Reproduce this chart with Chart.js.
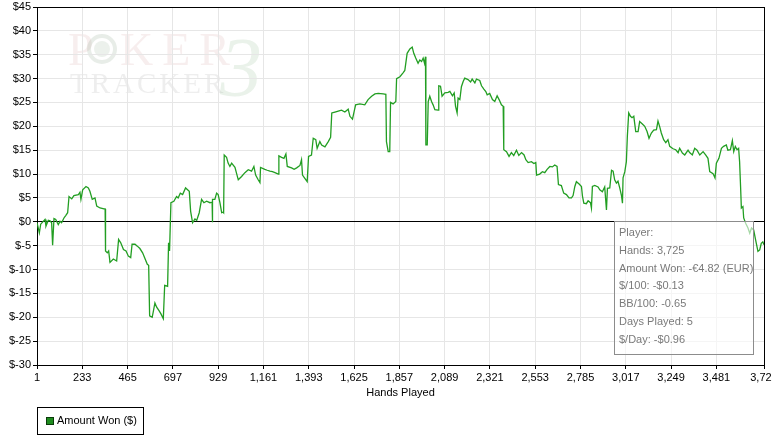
<!DOCTYPE html>
<html>
<head>
<meta charset="utf-8">
<script src="https://cdn.jsdelivr.net/npm/chart.js@4"></script>
<style>
  html, body { margin: 0; padding: 0; background: #fff; }
  #wrap { width: 772px; height: 442px; position: relative; }
</style>
</head>
<body>
<div id="wrap"><canvas id="chart" width="772" height="442"></canvas></div>
<script>
// hand number for each point
const hands = [
  1, 4, 13, 20, 33, 42, 47, 59, 68, 76, 81, 88, 97, 110, 119, 127, 139, 148, 158,
  165, 179, 190, 213, 221, 226, 235, 252, 264, 272, 284, 298, 307, 324, 344, 350,
  352, 361, 368, 375, 392, 409, 419, 430, 444, 457, 469, 481, 488, 503, 515, 528,
  542, 566, 573, 578, 591, 596, 605, 614, 626, 636, 648, 655, 670, 675, 680, 687,
  702, 716, 724, 735, 747, 762, 781, 788, 798, 810, 819, 832, 844, 856, 870, 887,
  898, 899, 901, 912, 921, 929, 938, 947, 955, 957,
  960, 972, 980, 989, 998, 1015, 1032, 1049, 1066, 1083, 1100, 1112, 1121, 1134,
  1143, 1146, 1168, 1180, 1194, 1207, 1220, 1237, 1240, 1254, 1266, 1276, 1283, 1305, 1318, 1331,
  1348, 1356, 1361, 1373, 1385, 1392, 1407, 1416, 1429, 1436, 1450, 1459, 1476,
  1493, 1505, 1511, 1527, 1544, 1561, 1578, 1595, 1604, 1617, 1624, 1633, 1655,
  1680, 1697, 1715, 1732, 1749, 1774, 1788, 1791, 1800, 1808, 1812, 1825, 1839, 1843,
  1860, 1876, 1885, 1890, 1897, 1911, 1923, 1931, 1941, 1953, 1962, 1971, 1979,
  1986, 1991, 1993, 2000, 2005, 2013, 2022, 2030, 2039, 2056, 2059, 2068, 2076,
  2090, 2107, 2116, 2129, 2138, 2145, 2153, 2158, 2167, 2175, 2184, 2192, 2209,
  2222, 2230, 2244, 2252, 2269, 2278, 2290, 2300, 2307, 2320, 2334, 2346, 2358,
  2368, 2380, 2389, 2392, 2406, 2419, 2431, 2443, 2457, 2469, 2483, 2496, 2505,
  2517, 2534, 2546, 2556, 2560, 2576, 2590, 2602, 2614, 2628, 2641, 2653, 2665,
  2672, 2687, 2699, 2713, 2726, 2739, 2747, 2756, 2764, 2778, 2790, 2795, 2802,
  2815, 2824, 2836, 2841, 2846, 2858, 2875, 2884,
  2897, 2909, 2918, 2923, 2935, 2944, 2952, 2960, 2969, 2977, 2986, 2995, 3000,
  3003, 3012, 3020, 3025, 3032, 3041, 3049, 3058, 3068, 3080, 3088, 3102, 3114,
  3126, 3136, 3148, 3160, 3174, 3182, 3191, 3199, 3211, 3222, 3233, 3242, 3259,
  3273, 3285, 3293, 3307, 3319, 3336, 3344, 3358, 3370, 3382, 3396, 3413, 3426,
  3438, 3447, 3464, 3474, 3481, 3494, 3507, 3518, 3532, 3540, 3553, 3563, 3570,
  3578, 3587, 3595, 3600, 3605, 3609, 3617, 3621, 3631, 3643, 3652, 3661, 3672,
  3682, 3694, 3703, 3711, 3719, 3725
];

// cumulative amount won ($) at those hands
const amountWon = [
  -0.2, -0.2, -2.3, -0.5, 0.1, 0.5, -0.9, 0.3, 0.2, -0.2, -4.9, 0.7, 0.5, -0.6, 0.1, -0.2, 0.8, 1.3, 1.9,
  5.3, 4.8, 5.5, 5.7, 6.2, 4.7, 6.7, 7.4, 7.1, 6.4, 4.7, 5.0, 3.3, 2.9, 2.7, 2.7,
  -6.1, -6.5, -6.1, -8.5, -7.8, -8.2, -3.7, -4.4, -5.8, -6.1, -7.2, -7.5, -4.7, -4.7, -5.1, -5.6,
  -6.5, -8.9, -9.1, -19.7, -20.0, -19.0, -17.0, -17.9, -18.6, -19.3, -20.3, -13.3, -13.5, -4.4, -6.1, 4.0,
  4.3, 5.3, 5.0, 6.0, 5.7, 7.1, 6.4, 2.2, -0.2, 0.6, 0.3, 1.9, 4.7, 4.0, 4.3, 4.0,
  4.1, -0.1, 4.7, 4.7, 6.0, 5.7, 4.0, 1.9, 2.0, 1.9,
  14.0, 13.5, 12.3, 11.6, 12.3, 11.4, 8.8, 9.5, 10.3, 10.9, 10.6, 11.6, 9.8, 8.8,
  8.2, 11.4, 11.0, 10.8, 10.6, 10.5, 10.3, 10.0, 13.8, 13.5, 13.3, 14.2, 11.6, 11.3, 11.0, 11.3,
  11.8, 13.0, 9.8, 9.1, 8.4, 13.7, 14.0, 17.5, 17.2, 15.4, 16.8, 16.1, 15.7,
  16.8, 17.7, 22.8, 23.0, 23.2, 23.4, 23.0, 23.6, 22.1, 21.5, 22.8, 24.5, 24.7,
  24.5, 25.6, 26.3, 26.8, 26.9, 26.8, 26.7, 16.8, 14.7, 14.7, 25.0, 24.7, 25.2, 30.0,
  30.4, 31.2, 31.7, 33.2, 35.3, 36.2, 36.6, 35.3, 34.3, 33.2, 33.9, 33.6, 34.3,
  33.2, 34.6, 16.1, 16.1, 25.2, 26.3, 25.2, 24.5, 23.5, 23.4, 28.5, 28.4, 26.3,
  27.0, 27.1, 27.3, 26.4, 27.0, 24.2, 22.8, 25.9, 25.6, 28.3, 29.4, 30.1, 29.8,
  29.3, 29.9, 29.1, 29.9, 29.6, 28.5, 27.8, 27.3, 26.6, 26.9, 25.6, 25.2, 26.4,
  25.6, 24.5, 24.2, 15.1, 14.7, 13.7, 14.5, 13.9, 15.0, 13.9, 14.5, 14.0, 13.0,
  12.4, 12.6, 12.2, 12.4, 9.8, 10.0, 10.5, 10.3, 11.0, 11.6, 11.5, 11.9, 11.6,
  7.8, 7.6, 6.0, 5.7, 5.0, 5.0, 5.5, 7.4, 8.4, 7.9, 7.4, 5.4, 3.9,
  3.8, 4.4, 4.0, 2.9, 7.4, 7.6, 7.3, 6.7,
  6.3, 7.3, 2.5, 7.0, 7.1, 10.8, 10.6, 8.8, 8.1, 8.5, 7.1, 5.5, 3.9,
  9.2, 10.5, 12.6, 17.9, 22.8, 22.1, 21.8, 22.1, 18.9, 18.9, 21.0, 20.5, 20.0,
  18.9, 17.5, 18.6, 19.2, 19.3, 21.1, 19.9, 18.6, 17.2, 16.6, 17.2, 15.8, 15.3,
  15.1, 14.5, 15.4, 14.4, 14.0, 15.0, 14.5, 14.0, 15.4, 15.0, 14.0, 14.7, 14.0,
  13.3, 10.5, 10.1, 9.2, 12.3, 13.3, 15.4, 15.8, 16.1, 15.0, 15.1, 17.0, 14.7,
  15.8, 15.1, 15.4, 12.6, 7.4, 2.9, 3.2, 0.8, -0.3, -1.3, -2.4, -1.3, -1.7,
  -3.8, -6.2, -5.9, -4.5, -4.2, -4.82
];

const handTicks = [1, 233, 465, 697, 929, 1161, 1393, 1625, 1857, 2089, 2321, 2553, 2785, 3017, 3249, 3481, 3725];
const yMin = -30, yMax = 45, yStep = 5;

const seriesLabel = "Amount Won ($)";
const xTitle = "Hands Played";
const summaryLines = [
  "Player:",
  "Hands: 3,725",
  "Amount Won: -€4.82 (EUR)",
  "$/100: -$0.13",
  "BB/100: -0.65",
  "Days Played: 5",
  "$/Day: -$0.96"
];

const FONT = '"Liberation Sans", Arial, sans-serif';
const GRID = "#e6e6e6";
const LINE_GREEN = "#229e22";

Chart.defaults.font.family = FONT;
Chart.defaults.font.size = 11;
Chart.defaults.color = "#000";

// watermark, frame, summary box, axis title and legend
const decorations = {
  id: "decorations",
  beforeDraw(chart) {
    const ctx = chart.ctx;
    ctx.save();
    ctx.textBaseline = "alphabetic";
    ctx.font = '46px "Liberation Serif", serif';
    ctx.fillStyle = "rgba(205,150,150,0.16)";
    ctx.fillText("P", 68, 65);
    ctx.letterSpacing = "9px";
    ctx.fillText("KER", 120, 65);
    // chip in place of the O
    ctx.strokeStyle = "rgba(150,175,150,0.22)";
    ctx.lineWidth = 4;
    ctx.beginPath();
    ctx.arc(102, 49, 13, 0, Math.PI * 2);
    ctx.stroke();
    ctx.fillStyle = "rgba(150,175,150,0.18)";
    ctx.beginPath();
    ctx.arc(102, 49, 8, 0, Math.PI * 2);
    ctx.fill();
    ctx.font = '29px "Liberation Serif", serif';
    ctx.letterSpacing = "3px";
    ctx.fillStyle = "rgba(150,150,150,0.16)";
    ctx.fillText("TRACKER", 70, 93);
    ctx.letterSpacing = "0px";
    ctx.font = 'italic 84px "Liberation Serif", serif';
    ctx.fillStyle = "rgba(130,175,130,0.17)";
    ctx.fillText("3", 220, 96);
    ctx.restore();
  },
  beforeDatasetsDraw(chart) {
    const { ctx, chartArea: a } = chart;
    ctx.save();
    ctx.strokeStyle = "#000";
    ctx.lineWidth = 1;
    ctx.strokeRect(Math.round(a.left) + 0.5, Math.round(a.top) + 0.5,
      Math.round(a.right - a.left), Math.round(a.bottom - a.top));
    ctx.restore();
  },
  afterDatasetsDraw(chart) {
    const ctx = chart.ctx;
    ctx.save();
    ctx.fillStyle = "rgba(255,255,255,0.6)";
    ctx.fillRect(614, 221, 140, 134);
    ctx.strokeStyle = "#8c8c8c";
    ctx.lineWidth = 1;
    ctx.strokeRect(614.5, 221.5, 139, 133);
    ctx.font = "11px " + FONT;
    ctx.fillStyle = "#7a7a7a";
    ctx.textBaseline = "middle";
    summaryLines.forEach((t, i) => ctx.fillText(t, 619, 233 + i * 17.8));
    ctx.restore();
  },
  afterDraw(chart) {
    const { ctx, chartArea: a } = chart;
    ctx.save();
    ctx.font = "11px " + FONT;
    ctx.fillStyle = "#000";
    ctx.textAlign = "center";
    ctx.textBaseline = "middle";
    ctx.fillText(xTitle, (a.left + a.right) / 2, 393);
    // legend box
    ctx.strokeStyle = "#000";
    ctx.strokeRect(37.5, 407.5, 106, 27);
    ctx.fillStyle = "#1e8c1e";
    ctx.fillRect(46, 417, 8, 8);
    ctx.strokeStyle = "#0a3a0a";
    ctx.strokeRect(46.5, 417.5, 7, 7);
    ctx.fillStyle = "#000";
    ctx.textAlign = "left";
    ctx.fillText(seriesLabel, 57, 421);
    ctx.restore();
  }
};

const points = hands.map((h, i) => ({ x: h, y: amountWon[i] }));

new Chart(document.getElementById("chart").getContext("2d"), {
  type: "line",
  data: {
    datasets: [{
      label: seriesLabel,
      data: points,
      borderColor: LINE_GREEN,
      borderWidth: 1.3,
      pointRadius: 0,
      tension: 0,
      fill: false
    }]
  },
  options: {
    responsive: false,
    animation: false,
    layout: { padding: { left: 0, top: 7, right: 8, bottom: 0 } },
    plugins: {
      legend: { display: false },
      tooltip: { enabled: false }
    },
    scales: {
      x: {
        type: "linear",
        min: 1,
        max: 3725,
        afterBuildTicks: (scale) => { scale.ticks = handTicks.map((v) => ({ value: v })); },
        afterFit: (scale) => { scale.height = 77; scale.paddingLeft = 0; scale.paddingRight = 0; },
        ticks: {
          autoSkip: false,
          maxRotation: 0,
          padding: 2,
          color: "#000",
          callback: (v) => Number(v).toLocaleString("en-US")
        },
        grid: { color: GRID, tickColor: "#000", tickLength: 4, lineWidth: 1 },
        border: { display: true, color: "#000" }
      },
      y: {
        min: yMin,
        max: yMax,
        afterFit: (scale) => { scale.width = 37; scale.paddingTop = 0; scale.paddingBottom = 0; },
        ticks: {
          stepSize: yStep,
          padding: 2,
          color: "#000",
          callback: (v) => "$" + v
        },
        grid: {
          color: (c) => (c.tick && c.tick.value === 0 ? "#000" : GRID),
          tickColor: "#000",
          tickLength: 4,
          lineWidth: 1
        },
        border: { display: true, color: "#000" }
      }
    }
  },
  plugins: [decorations]
});
</script>
</body>
</html>
